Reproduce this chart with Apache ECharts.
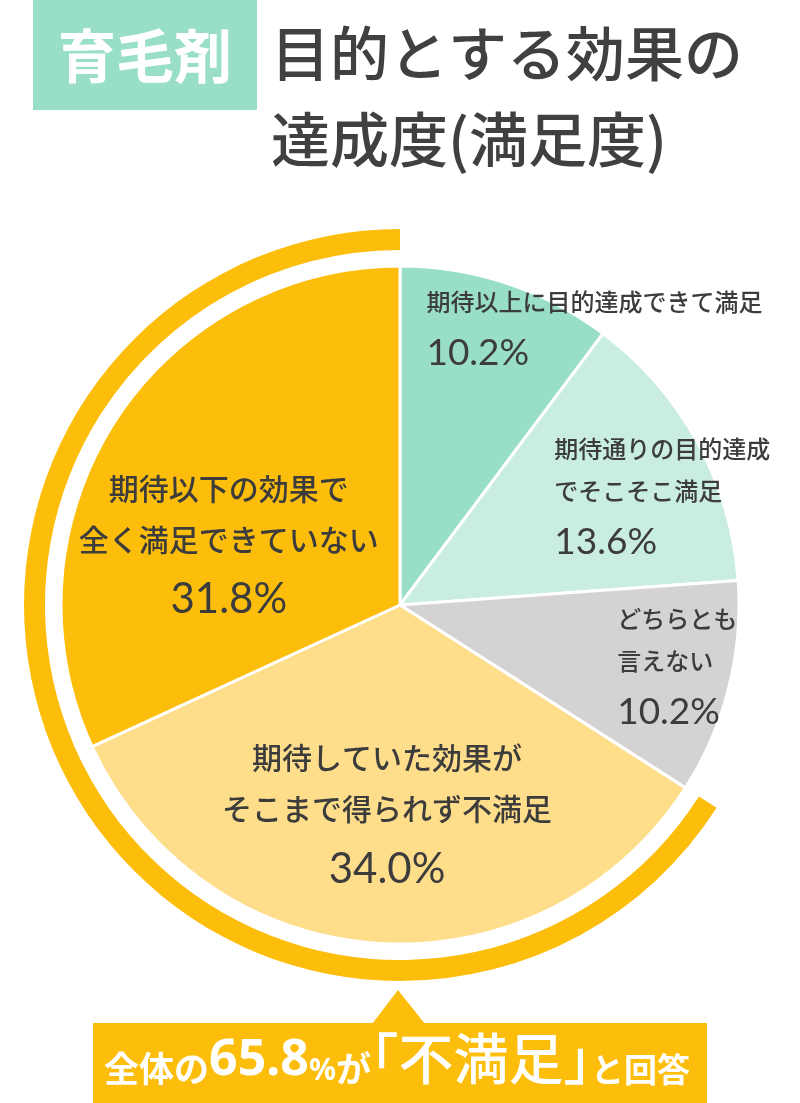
<!DOCTYPE html>
<html>
<head>
<meta charset="utf-8">
<script src="https://cdn.jsdelivr.net/npm/echarts@6/dist/echarts.min.js"></script>
<style>
html,body{margin:0;padding:0;background:#fff;}
#chart{width:800px;height:1103px;}
</style>
</head>
<body>
<div id="chart"></div>
<script>
// ---- data ----
const categories = [
  '期待以上に目的達成できて満足',
  '期待通りの目的達成でそこそこ満足',
  'どちらとも言えない',
  '期待していた効果がそこまで得られず不満足',
  '期待以下の効果で全く満足できていない'
];
const labelLines = [
  ['期待以上に目的達成できて満足'],
  ['期待通りの目的達成', 'でそこそこ満足'],
  ['どちらとも', '言えない'],
  ['期待していた効果が', 'そこまで得られず不満足'],
  ['期待以下の効果で', '全く満足できていない']
];
const values = [10.2, 13.6, 10.2, 34.0, 31.8];
const dissatisfiedIndex = [3, 4];
const titleTag = '育毛剤';
const titleLines = ['目的とする効果の', '達成度(満足度)'];

// ---- styles ----
const sliceColors = ['#99DFC6', '#C9EDE0', '#D4D2D3', '#FEDD8B', '#FDBE0B'];
const ringColor = '#FDBE0B';
const textColor = '#3C3C3C';
const jp = '"Noto Sans CJK JP", "Noto Sans", sans-serif';
const num = 'Lato, "Noto Sans", sans-serif';
const labelOffsets = [[140, -109], [111, -22], [110, 23], [-1, 41], [-26, 37]];
const bigLabel = [false, false, false, true, true];

const dissatisfied = dissatisfiedIndex.reduce((s, i) => s + values[i], 0);
const rest = values.reduce((s, v) => s + v, 0) - dissatisfied;

const smallRich = {
  n: { fontFamily: jp, fontSize: 24, fontWeight: 500, color: textColor, lineHeight: 42, align: 'left' },
  p: { fontFamily: num, fontSize: 37, color: textColor, lineHeight: 61, align: 'left' }
};
const bigRich = {
  n: { fontFamily: jp, fontSize: 30, fontWeight: 500, color: textColor, lineHeight: 51, align: 'center' },
  p: { fontFamily: num, fontSize: 42, color: textColor, lineHeight: 70, align: 'center' }
};

const pieData = categories.map((c, i) => ({
  name: c,
  value: values[i],
  itemStyle: { color: sliceColors[i] },
  label: {
    offset: labelOffsets[i],
    rich: bigLabel[i] ? bigRich : smallRich
  }
}));

const W = '#ffffff';
const chart = echarts.init(document.getElementById('chart'), null, { renderer: 'canvas' });
chart.setOption({
  animation: false,
  backgroundColor: '#ffffff',
  graphic: [
    { type: 'rect', shape: { x: 33, y: 0, width: 224, height: 110 }, style: { fill: '#99DFC6' } },
    { type: 'text', x: 145, y: 56, style: { text: titleTag, fill: W, font: 'bold 58px ' + jp, align: 'center', verticalAlign: 'middle' } },
    { type: 'text', x: 271, y: 54, style: { text: titleLines[0], fill: '#404040', font: '500 59px ' + jp, align: 'left', verticalAlign: 'middle' } },
    { type: 'text', x: 271, y: 140, style: { text: titleLines[1], fill: '#404040', font: '500 59px ' + jp, align: 'left', verticalAlign: 'middle' } },
    { type: 'polygon', shape: { points: [[372, 1024], [398, 990], [425, 1024]] }, style: { fill: ringColor } },
    { type: 'rect', shape: { x: 93, y: 1023, width: 614, height: 80 }, style: { fill: ringColor } },
    { type: 'text', x: 397, y: 1086, style: {
        text: '{a|全体の}{b|' + dissatisfied.toFixed(1) + '}{c|%}{a|が}{d|｢不満足｣}{e|と回答}',
        align: 'center', verticalAlign: 'bottom', fill: W,
        rich: {
          a: { fontFamily: jp, fontSize: 35, fontWeight: 'bold', fill: W, verticalAlign: 'bottom' },
          b: { fontFamily: '"Noto Sans", sans-serif', fontSize: 50, fontWeight: 'bold', fill: W, verticalAlign: 'bottom' },
          c: { fontFamily: '"Noto Sans", sans-serif', fontSize: 30, fontWeight: 'bold', fill: W, verticalAlign: 'bottom' },
          d: { fontFamily: jp, fontSize: 55, fontWeight: 500, fill: W, verticalAlign: 'bottom' },
          e: { fontFamily: jp, fontSize: 33, fontWeight: 'bold', fill: W, verticalAlign: 'bottom' }
        }
      } }
  ],
  series: [
    {
      type: 'pie',
      center: [400, 605],
      radius: [0, 339],
      startAngle: 90,
      clockwise: true,
      avoidLabelOverlap: false,
      silent: true,
      itemStyle: { borderColor: '#ffffff', borderWidth: 3 },
      label: {
        show: true,
        position: 'inside',
        formatter: p => labelLines[p.dataIndex].map(s => '{n|' + s + '}').join('\n') + '\n{p|' + values[p.dataIndex].toFixed(1) + '%}'
      },
      labelLine: { show: false },
      data: pieData
    },
    {
      type: 'pie',
      center: [400, 605],
      radius: [355, 376],
      startAngle: 90,
      clockwise: false,
      silent: true,
      label: { show: false },
      labelLine: { show: false },
      data: [
        { value: dissatisfied, itemStyle: { color: ringColor } },
        { value: rest, itemStyle: { color: 'rgba(0,0,0,0)' } }
      ]
    }
  ]
});
</script>
</body>
</html>
